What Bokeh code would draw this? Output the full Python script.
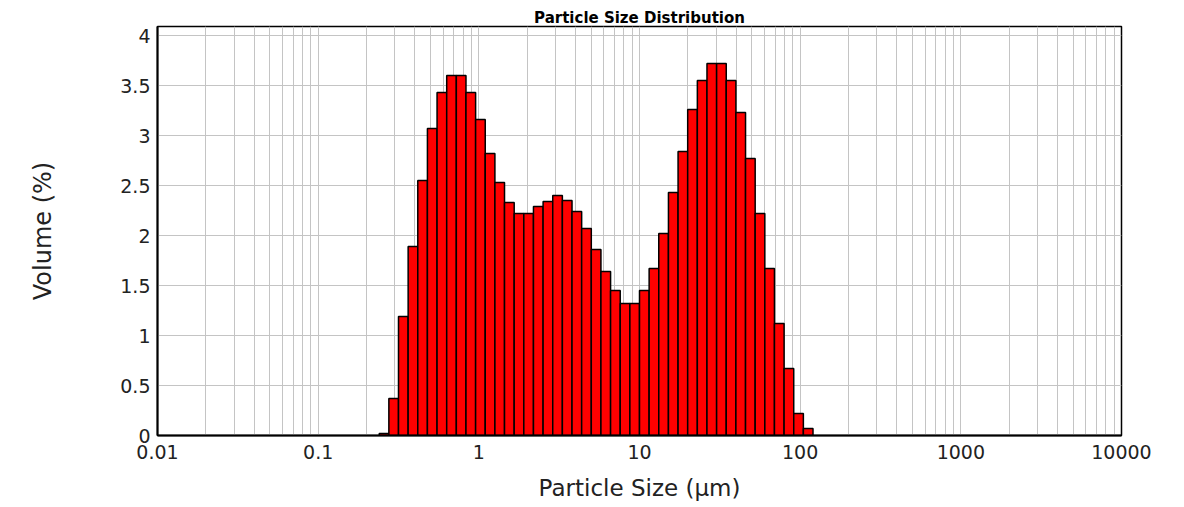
from bokeh.plotting import figure
from bokeh.models import Range1d, FixedTicker, CustomJSTickFormatter
from bokeh.embed import file_html
from bokeh.resources import INLINE

# Size class edges (um) of the bins that hold any volume
class_edges = [0.2399, 0.2754, 0.3162, 0.3631, 0.4169, 0.4786, 0.5495, 0.6310,
               0.7244, 0.8318, 0.9550, 1.096, 1.259, 1.445, 1.660, 1.905,
               2.188, 2.512, 2.884, 3.311, 3.802, 4.365, 5.012, 5.754,
               6.607, 7.586, 8.710, 10.00, 11.48, 13.18, 15.14, 17.38,
               19.95, 22.91, 26.30, 30.20, 34.67, 39.81, 45.71, 52.48,
               60.26, 69.18, 79.43, 91.20, 104.7, 120.2]

# Volume (%) in each class
volume = [0.02, 0.37, 1.19, 1.89, 2.55, 3.07, 3.43, 3.60,
          3.60, 3.43, 3.16, 2.82, 2.53, 2.33, 2.22, 2.22,
          2.29, 2.34, 2.40, 2.35, 2.24, 2.07, 1.86, 1.64,
          1.45, 1.32, 1.32, 1.45, 1.67, 2.02, 2.43, 2.84,
          3.26, 3.55, 3.72, 3.72, 3.55, 3.23, 2.77, 2.22,
          1.67, 1.12, 0.67, 0.22, 0.07]

x_major = [0.01, 0.1, 1, 10, 100, 1000, 10000]
x_minor = [m * d for d in [0.01, 0.1, 1, 10, 100, 1000] for m in range(2, 10)]
y_ticks = [0, 0.5, 1, 1.5, 2, 2.5, 3, 3.5, 4]

FONT = "DejaVu Sans"

p = figure(width=1184, height=507, x_axis_type="log",
           x_range=Range1d(0.01, 10000), y_range=Range1d(0, 4.09),
           output_backend="svg", toolbar_location=None,
           min_border_left=157, min_border_right=63,
           min_border_top=26, min_border_bottom=72,
           title="Particle Size Distribution")

p.title.align = "center"
p.title.text_font = FONT
p.title.text_font_style = "bold"
p.title.text_font_size = "15px"
p.title.text_color = "black"
p.title.standoff = 0
p.title.offset = 0

p.quad(left=class_edges[:-1], right=class_edges[1:], bottom=0, top=volume,
       fill_color="#ff0000", line_color="black", line_width=1.5)

xa = p.xaxis[0]
xa.ticker = FixedTicker(ticks=x_major, minor_ticks=x_minor)
xa.formatter = CustomJSTickFormatter(code="return String(tick);")
xa.axis_label = "Particle Size (µm)"

ya = p.yaxis[0]
ya.ticker = FixedTicker(ticks=y_ticks)
ya.formatter = CustomJSTickFormatter(code="return String(tick);")
ya.axis_label = "Volume (%)"

for ax in (xa, ya):
    ax.major_tick_out = 0
    ax.major_tick_in = 0
    ax.minor_tick_out = 0
    ax.minor_tick_in = 0
    ax.major_label_text_font = FONT
    ax.major_label_text_font_size = "19px"
    ax.major_label_text_color = "#222222"
    ax.axis_label_text_font = FONT
    ax.axis_label_text_font_style = "normal"
    ax.axis_label_text_color = "#222222"
    ax.axis_line_color = "black"
    ax.axis_line_width = 2

xa.axis_label_text_font_size = "23px"
ya.axis_label_text_font_size = "24px"
xa.major_label_standoff = 9
xa.axis_label_standoff = 13
ya.major_label_standoff = 7
ya.axis_label_standoff = 60

p.xgrid.grid_line_color = "#c4c4c4"
p.xgrid.minor_grid_line_color = "#c4c4c4"
p.xgrid.grid_line_width = 1
p.xgrid.minor_grid_line_width = 1
p.ygrid.grid_line_color = "#c4c4c4"
p.ygrid.grid_line_width = 1

p.outline_line_color = "black"
p.outline_line_width = 1.5
p.background_fill_color = "white"
p.border_fill_color = "white"

open("out.html", "w").write(file_html(p, INLINE))
